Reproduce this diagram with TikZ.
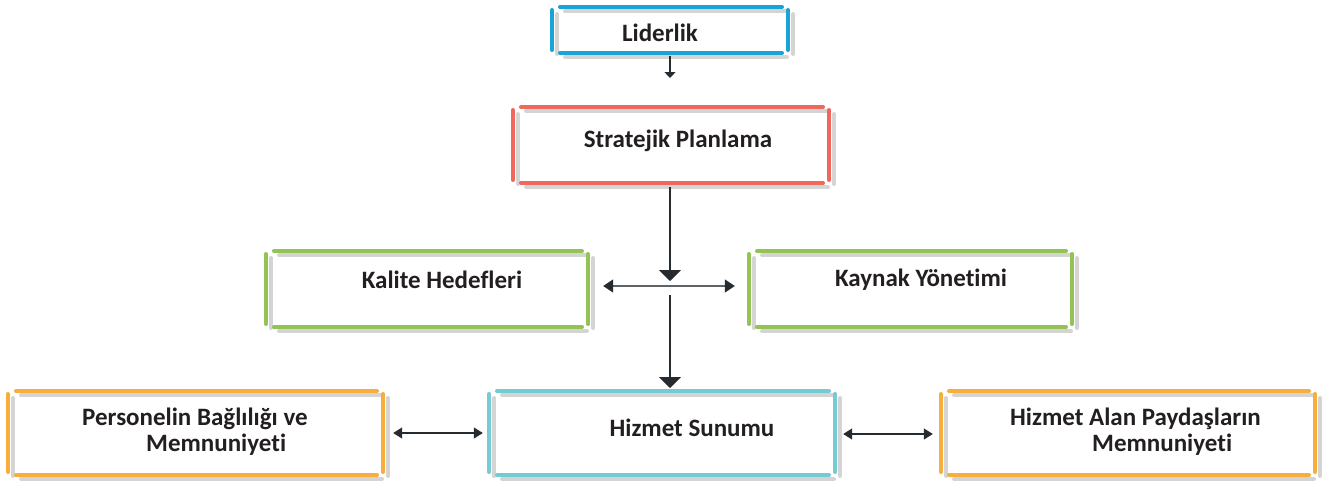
\documentclass[tikz,border=0pt]{standalone}
\usepackage{fontspec}
\setmainfont{Carlito}[RawFeature={-liga}]
\usetikzlibrary{arrows.meta}
\definecolor{cblue}{HTML}{1AA3D6}
\definecolor{cred}{HTML}{F0675E}
\definecolor{cgreen}{HTML}{92C353}
\definecolor{cteal}{HTML}{74CBD2}
\definecolor{corange}{HTML}{F8AE3C}
\definecolor{cshadow}{HTML}{D4D4D4}
\definecolor{ctext}{HTML}{231F20}
\definecolor{carrow}{HTML}{262B30}
\definecolor{chline}{HTML}{5E6368}
\tikzset{
  barline/.style={line width=4pt, line cap=round},
  label/.style={font=\bfseries\fontsize{25}{26}\selectfont, text=ctext, inner sep=0pt, align=left},
  arrsmall/.style={draw=carrow, line width=1.2pt, -{Triangle[length=6pt,width=11pt]}},
  arrbig/.style={draw=carrow, line width=1.6pt, -{Triangle[length=11pt,width=22pt]}},
  dblarr/.style={draw=chline, line width=1.5pt, {Triangle[length=10pt,width=13pt,color=carrow]}-{Triangle[length=10pt,width=13pt,color=carrow]}},
  dblarrsmall/.style={draw=carrow, line width=1.2pt, {Triangle[length=9pt,width=11pt]}-{Triangle[length=9pt,width=11pt]}}
}
% #1 colour, #2 dx, #3 dy, #4 L, #5 T, #6 R, #7 B
\newcommand\mypanellines[7]{%
    \draw[barline,draw=#1] ({#4+#2},{#5+3+#3}) -- ({#4+#2},{#7-3+#3});
    \draw[barline,draw=#1] ({#6+#2},{#5+3+#3}) -- ({#6+#2},{#7-3+#3});
    \draw[barline,draw=#1] ({#4+8+#2},{#5+#3}) -- ({#6-6+#2},{#5+#3});
    \draw[barline,draw=#1] ({#4+8+#2},{#7+#3}) -- ({#6-6+#2},{#7+#3});
}
% #1 name, #2 colour, #3 L, #4 T, #5 R, #6 B
\newcommand\mypanel[6]{%
  \node[inner sep=0pt, minimum width={#5-#3}, minimum height={#6-#4}] (#1) at ({(#3+#5)/2},{(#4+#6)/2}) {};
  \mypanellines{cshadow}{5}{4}{#3}{#4}{#5}{#6}%
  \mypanellines{#2}{0}{0}{#3}{#4}{#5}{#6}%
}
\begin{document}
\begin{tikzpicture}[x=1pt,y=-1pt]
\useasboundingbox[fill=white] (0,0) rectangle (1330,480);
\mypanel{lid}{cblue}{552}{7}{788}{53}
\mypanel{str}{cred}{513}{107}{829}{183}
\mypanel{kal}{cgreen}{266}{251}{588}{327}
\mypanel{kay}{cgreen}{749}{251}{1072}{327}
\mypanel{hiz}{cteal}{489}{391}{835}{475}
\mypanel{per}{corange}{8}{391}{383}{475}
\mypanel{hal}{corange}{941}{391}{1315}{475}

\node[label] (tlid) at (660,33) {Liderlik};
\node[label] (tstr) at (678,141) {Stratejik Planlama};
\node[label] (tkal) at (442,280) {Kalite Hedefleri};
\node[label] (tkay) at (921,280) {Kaynak Yönetimi};
\node[label] (thiz) at (692,428) {Hizmet Sunumu};
\node[label, anchor=west] (tper) at (82,432) {Personelin Bağlılığı ve\\\hspace*{64pt}Memnuniyeti};
\node[label, anchor=west] (thal) at (1010,432) {Hizmet Alan Paydaşların\\\hspace*{82pt}Memnuniyeti};

\coordinate (a1) at (670,78);
\coordinate (j1) at (670,281);
\coordinate (j2) at (670,295);
\coordinate (a4) at (670,388);
\draw[arrsmall] (lid.south -| a1) ++(0,3) -- (a1);
\draw[arrbig] (str.south -| j1) ++(0,4) -- (j1);
\draw[dblarr] ([xshift=15pt,yshift=3pt]kal.east) -- ([xshift=-14pt,yshift=3pt]kay.west);
\draw[arrbig] (j2) -- (a4);
\draw[dblarrsmall] ([xshift=10pt]per.east) -- ([xshift=-6pt]hiz.west);
\draw[dblarrsmall] ([xshift=8pt,yshift=-1pt]hiz.east) -- ([xshift=-8pt,yshift=-1pt]hal.west);
\end{tikzpicture}
\end{document}
